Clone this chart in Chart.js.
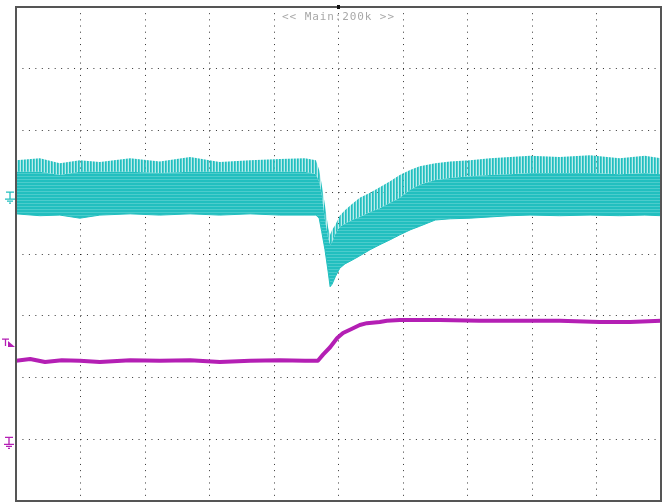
<!DOCTYPE html>
<html>
<head>
<meta charset="utf-8">
<script src="https://cdn.jsdelivr.net/npm/chart.js@4.4.1/dist/chart.umd.min.js"></script>
<style>
  html, body { margin: 0; padding: 0; background: #fff; }
  #wrap { width: 663px; height: 502px; }
</style>
</head>
<body>
<div id="wrap"><canvas id="scope" width="663" height="502"></canvas></div>
<script>
// Canal 1 (cian): posición horizontal en divisiones y envolventes en divisiones
const canal1X = [0, 0.37, 0.68, 0.99, 1.30, 1.77, 2.23, 2.70, 3.16, 3.63, 4.09, 4.48, 4.65, 4.70, 4.74, 4.79, 4.84, 4.87, 4.90, 4.95, 5.02, 5.10, 5.21, 5.33, 5.49, 5.64, 5.80, 5.95, 6.11, 6.26, 6.50, 6.73, 7.04, 7.35, 7.66, 7.97, 8.43, 8.90, 9.36, 9.75, 10];
// Puntas del rizado (borde superior)
const canal1Puntas = [1.52, 1.55, 1.47, 1.52, 1.49, 1.55, 1.50, 1.57, 1.49, 1.52, 1.54, 1.55, 1.52, 1.36, 1.12, 0.79, 0.42, 0.31, 0.39, 0.47, 0.62, 0.71, 0.81, 0.91, 0.99, 1.08, 1.18, 1.28, 1.36, 1.42, 1.47, 1.50, 1.52, 1.55, 1.57, 1.59, 1.57, 1.60, 1.55, 1.59, 1.55];
// Parte sólida de la traza (tope)
const canal1Cuerpo = [1.33, 1.33, 1.28, 1.33, 1.33, 1.33, 1.31, 1.33, 1.33, 1.33, 1.33, 1.33, 1.29, 1.17, 0.96, 0.55, 0.26, 0.15, 0.19, 0.32, 0.44, 0.49, 0.55, 0.60, 0.68, 0.74, 0.83, 0.91, 1.04, 1.12, 1.20, 1.23, 1.26, 1.28, 1.29, 1.31, 1.31, 1.31, 1.29, 1.31, 1.29];
// Borde inferior
const canal1Base = [0.65, 0.62, 0.63, 0.58, 0.63, 0.65, 0.63, 0.65, 0.63, 0.65, 0.63, 0.63, 0.63, 0.58, 0.36, 0.07, -0.29, -0.53, -0.49, -0.37, -0.23, -0.16, -0.10, -0.03, 0.07, 0.15, 0.23, 0.31, 0.39, 0.45, 0.55, 0.57, 0.58, 0.60, 0.62, 0.63, 0.62, 0.63, 0.62, 0.63, 0.62];

// Canal 2 (magenta)
const canal2X = [0, 0.22, 0.45, 0.71, 0.99, 1.30, 1.77, 2.23, 2.70, 3.16, 3.63, 4.09, 4.48, 4.68, 4.76, 4.87, 4.98, 5.07, 5.21, 5.33, 5.44, 5.64, 5.75, 5.95, 6.57, 7.19, 7.81, 8.43, 9.05, 9.52, 10];
const canal2Y = [-1.73, -1.70, -1.75, -1.72, -1.73, -1.75, -1.72, -1.73, -1.72, -1.75, -1.73, -1.72, -1.73, -1.73, -1.63, -1.51, -1.36, -1.28, -1.21, -1.15, -1.12, -1.10, -1.08, -1.07, -1.07, -1.08, -1.08, -1.08, -1.10, -1.10, -1.08];

// Niveles de referencia (divisiones) y texto de la base de tiempo
const tierraCanal1 = 0.92;
const tierraCanal2 = -3.05;
const nivelDisparo = -1.41;
const textoBaseTiempo = '<< Main:200k >>';

const cian = '#22bfbf';
const magenta = '#b41fb4';

// Patrón de rayas para simular el rizado
function patronRayas(colores, ancho, alto) {
    const c = document.createElement('canvas');
    c.width = ancho;
    c.height = alto;
    const g = c.getContext('2d');
    colores.forEach((col, i) => {
        g.fillStyle = col;
        if (ancho > 1) g.fillRect(i, 0, 1, alto);
        else g.fillRect(0, i, ancho, 1);
    });
    return g.createPattern(c, 'repeat');
}

const ctx = document.getElementById('scope').getContext('2d');
const rayasPuntas = patronRayas([cian, 'rgba(34,191,191,0.8)', 'rgba(34,191,191,0.3)'], 3, 1);
const rayasCuerpo = patronRayas([cian, cian, '#4ccccc'], 1, 3);

function puntos(xs, ys) {
    return xs.map((x, i) => ({ x: x, y: ys[i] }));
}

// Dibuja el símbolo de tierra
function tierra(g, cx, y0, color) {
    g.strokeStyle = color;
    g.lineWidth = 1.3;
    g.beginPath();
    g.moveTo(cx - 4, y0); g.lineTo(cx + 4, y0);
    g.moveTo(cx, y0); g.lineTo(cx, y0 + 7);
    g.moveTo(cx - 5, y0 + 7); g.lineTo(cx + 5, y0 + 7);
    g.moveTo(cx - 3, y0 + 9); g.lineTo(cx + 3, y0 + 9);
    g.moveTo(cx - 1, y0 + 11); g.lineTo(cx + 1, y0 + 11);
    g.stroke();
}

// Plugin para el marco, el texto y los marcadores laterales
const pantallaPlugin = {
    id: 'pantalla',
    afterDraw(chart) {
        const g = chart.ctx;
        const a = chart.chartArea;
        const sx = chart.scales.x;
        const sy = chart.scales.y;
        g.save();
        g.strokeStyle = '#555';
        g.lineWidth = 2;
        g.strokeRect(a.left, a.top, a.right - a.left, a.bottom - a.top);

        // Texto de base de tiempo
        g.font = '11px "DejaVu Sans Mono"';
        g.letterSpacing = '0.9px';
        g.fillStyle = '#a8a8a8';
        g.textBaseline = 'alphabetic';
        const w = g.measureText(textoBaseTiempo).width;
        g.fillText(textoBaseTiempo, sx.getPixelForValue(5) - w / 2, a.top + 13);

        // Marca de posición de disparo arriba
        g.fillStyle = '#111';
        const cx = sx.getPixelForValue(5);
        g.fillRect(cx - 1.5, a.top - 2, 3, 4);

        // Tierra de cada canal
        tierra(g, 10, sy.getPixelForValue(tierraCanal1) - 5, cian);
        tierra(g, 9, sy.getPixelForValue(tierraCanal2) - 5, magenta);

        // Marca de nivel de disparo
        const yd = sy.getPixelForValue(nivelDisparo);
        g.strokeStyle = magenta;
        g.fillStyle = magenta;
        g.lineWidth = 1.3;
        g.beginPath();
        g.moveTo(2, yd - 2); g.lineTo(9, yd - 2);
        g.moveTo(5.5, yd - 2); g.lineTo(5.5, yd + 5);
        g.stroke();
        g.beginPath();
        g.moveTo(8, yd);
        g.lineTo(8, yd + 6);
        g.lineTo(15, yd + 6);
        g.closePath();
        g.fill();
        g.restore();
    }
};

const config = {
    type: 'line',
    data: {
        datasets: [
            {
                label: 'Canal 1 base',
                data: puntos(canal1X, canal1Base),
                borderColor: cian,
                borderWidth: 1,
                pointRadius: 0,
                fill: false
            },
            {
                label: 'Canal 1 cuerpo',
                data: puntos(canal1X, canal1Cuerpo),
                borderWidth: 0,
                borderColor: 'rgba(0,0,0,0)',
                backgroundColor: rayasCuerpo,
                pointRadius: 0,
                fill: '-1'
            },
            {
                label: 'Canal 1 puntas',
                data: puntos(canal1X, canal1Puntas),
                borderWidth: 0,
                borderColor: 'rgba(0,0,0,0)',
                backgroundColor: rayasPuntas,
                pointRadius: 0,
                fill: '-1'
            },
            {
                label: 'Canal 2',
                data: puntos(canal2X, canal2Y),
                borderColor: magenta,
                borderWidth: 4,
                borderJoinStyle: 'round',
                pointRadius: 0,
                fill: false
            }
        ]
    },
    options: {
        responsive: false,
        animation: false,
        events: [],
        layout: { padding: { left: 16, right: 2, top: 7, bottom: 1 } },
        plugins: {
            legend: { display: false },
            tooltip: { enabled: false },
            title: { display: false }
        },
        scales: {
            x: {
                type: 'linear',
                min: 0,
                max: 10,
                ticks: { display: false, stepSize: 1 },
                grid: { color: 'rgba(0,0,0,0.8)', lineWidth: 1, drawTicks: false, borderDash: [1, 5.175] },
                border: { display: false, dash: [1, 5.175] }
            },
            y: {
                type: 'linear',
                min: -4,
                max: 4,
                ticks: { display: false, stepSize: 1 },
                grid: { color: 'rgba(0,0,0,0.8)', lineWidth: 1, drawTicks: false, borderDash: [1, 5.45] },
                border: { display: false, dash: [1, 5.45] }
            }
        }
    },
    plugins: [pantallaPlugin]
};

new Chart(ctx, config);
</script>
</body>
</html>
